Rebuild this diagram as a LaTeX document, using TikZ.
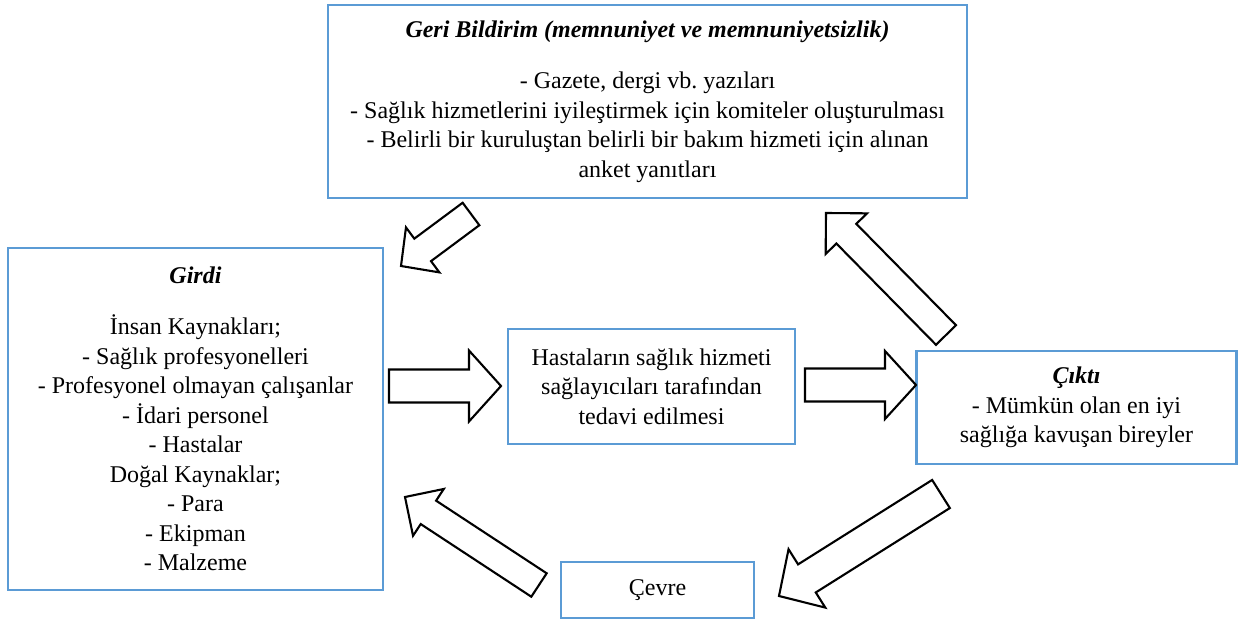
\documentclass[tikz,border=0pt]{standalone}
\usepackage{fontspec}
\setmainfont{Liberation Serif}
\usetikzlibrary{calc}
\definecolor{boxblue}{HTML}{5B9BD5}
\tikzset{
  box/.style={draw=boxblue, line width=2.4pt, align=center, inner sep=0pt, fill=white,
    font=\fontsize{24}{29.5}\selectfont},
  barrow/.style={draw=black, line width=2.1pt, fill=white, line join=miter},
}
\newcommand{\blockarr}[5]{% start, tip, shaft half-width, head half-width, head length
  \coordinate (#1-b) at ($(#2)!#5!(#1)$);
  \draw[barrow] ($(#1)!#3!90:(#2)$) -- ($(#1-b)!#3!-90:(#1)$) -- ($(#1-b)!#4!-90:(#1)$)
    -- (#2) -- ($(#1-b)!#4!90:(#1)$) -- ($(#1-b)!#3!90:(#1)$) -- ($(#1)!#3!-90:(#2)$) -- cycle;}
\frenchspacing
\begin{document}
\begin{tikzpicture}[x=1pt,y=-1pt]
\fill[white] (0,0) rectangle (1240,623);
\useasboundingbox (0,0) rectangle (1240,623);

\node[box, minimum width=639pt, minimum height=193pt] (feedback) at (647.5,101.5)
  {\textbf{\textit{Geri Bildirim (memnuniyet ve memnuniyetsizlik)}}\\[22pt]
   - Gazete, dergi vb.\ yazıları\\
   - Sağlık hizmetlerini iyileştirmek için komiteler oluşturulması\\
   - Belirli bir kuruluştan belirli bir bakım hizmeti için alınan\\
   anket yanıtları};

\node[box, minimum width=375pt, minimum height=342pt] (girdi) at (195.5,419)
  {\textbf{\textit{Girdi}}\\[22pt]
   İnsan Kaynakları;\\
   - Sağlık profesyonelleri\\
   - Profesyonel olmayan çalışanlar\\
   - İdari personel\\
   - Hastalar\\
   Doğal Kaynaklar;\\
   - Para\\
   - Ekipman\\
   - Malzeme};

\node[box, minimum width=287pt, minimum height=115pt] (process) at (651.5,386.5)
  {Hastaların sağlık hizmeti\\ sağlayıcıları tarafından\\ tedavi edilmesi};

\node[box, minimum width=320pt, minimum height=113pt] (cikti) at (1076.5,407.5)
  {\textbf{\textit{Çıktı}}\\ - Mümkün olan en iyi\\ sağlığa kavuşan bireyler};

\node[box, minimum width=193pt, minimum height=56pt] (cevre) at (657.5,590)
  {Çevre};

% block arrows
\coordinate (a1s) at (471,214); \coordinate (a1t) at (401,266);
\coordinate (a2s) at (389,386); \coordinate (a2t) at (501,386);
\coordinate (a3s) at (805,385); \coordinate (a3t) at (916,385);
\coordinate (a4s) at (946,335); \coordinate (a4t) at (826,213);
\coordinate (a5s) at (941,494); \coordinate (a5t) at (779,596);
\coordinate (a6s) at (539,585); \coordinate (a6t) at (405,497);

\blockarr{a1s}{a1t}{14pt}{28pt}{27pt}
\blockarr{a2s}{a2t}{16.5pt}{35.5pt}{32pt}
\blockarr{a3s}{a3t}{16.5pt}{34pt}{31pt}
\blockarr{a4s}{a4t}{14pt}{29pt}{29pt}
\blockarr{a5s}{a5t}{16.6pt}{34.5pt}{33pt}
\blockarr{a6s}{a6t}{14pt}{28pt}{28pt}
\end{tikzpicture}
\end{document}
